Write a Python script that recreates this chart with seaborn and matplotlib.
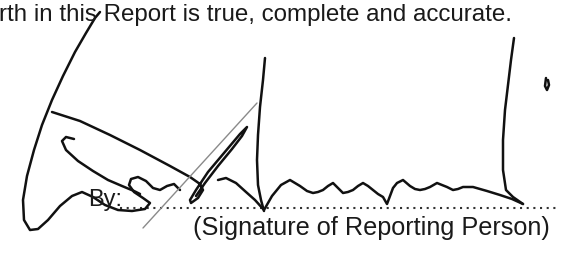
import numpy as np
import pandas as pd
import seaborn as sns
from matplotlib import pyplot as plt

# text on the page
top_line = "rth in this Report is true, complete and accurate."
by_label = "By:"
caption = "(Signature of Reporting Person)"

# pen strokes, image pixel coords (x right, y down)
loop_x = [100, 95, 86, 75, 63, 52, 42, 34, 27, 23, 24, 30, 38, 48, 60, 72, 82, 93, 105, 118, 132, 145, 150, 143, 134, 129, 131, 138, 146, 153, 160, 167, 174, 180]
loop_y = [12, 18, 33, 52, 76, 100, 125, 150, 176, 200, 220, 230, 229, 220, 206, 196, 192, 197, 205, 210, 211, 209, 203, 198, 192, 185, 179, 177, 181, 188, 190, 186, 184, 190]
hook_x = [74, 66, 62, 66, 78, 93, 108, 122, 134, 140]
hook_y = [139, 137, 141, 150, 161, 171, 180, 186, 191, 194]
slash_x = [52, 80, 110, 140, 170, 190, 200, 203, 198, 191, 190, 196, 208, 224, 240, 247, 242, 232, 218, 205, 196]
slash_y = [112, 121, 135, 150, 166, 177, 184, 190, 198, 203, 200, 190, 172, 153, 134, 127, 136, 149, 166, 183, 196]
tall_x = [265, 263, 260, 258, 257, 258, 261, 264]
tall_y = [58, 80, 107, 135, 160, 185, 200, 211]
sweep_x = [218, 226, 236, 246, 255, 264, 272, 281, 290, 300, 307, 313, 318, 323, 328, 333, 338, 343, 348, 353, 358, 363, 368, 373, 378, 383, 387, 390, 393, 397, 403, 410, 415, 420, 425, 430, 437, 442, 447, 453, 458, 463, 473, 487, 500, 512, 523]
sweep_y = [180, 178, 183, 192, 200, 210, 196, 185, 180, 186, 191, 193, 192, 190, 186, 183, 188, 193, 192, 190, 186, 183, 186, 190, 194, 197, 204, 196, 188, 183, 180, 186, 189, 190, 189, 187, 183, 185, 187, 190, 189, 187, 187, 191, 195, 199, 204]
right_x = [523, 513, 506, 503, 503, 505, 508, 511, 514]
right_y = [204, 197, 190, 170, 140, 110, 85, 60, 38]
tick_x = [546, 545, 547, 549, 548]
tick_y = [78, 86, 90, 85, 80]
grey_x = [143, 257]
grey_y = [228, 103]

strokes = {"loop": (loop_x, loop_y), "hook": (hook_x, hook_y), "slash": (slash_x, slash_y),
           "tall": (tall_x, tall_y), "sweep": (sweep_x, sweep_y), "right": (right_x, right_y),
           "tick": (tick_x, tick_y)}
rows = []
for name, (xs, ys) in strokes.items():
    for i, (a, b) in enumerate(zip(xs, ys)):
        rows.append((name, i, a, b))
ink = pd.DataFrame(rows, columns=["stroke", "order", "x", "y"])

sns.set_style("white")
plt.rcParams['font.family'] = ['Liberation Sans', 'DejaVu Sans']

fig = plt.figure(figsize=(5.75, 2.54), dpi=100)
ax = fig.add_axes([0, 0, 1, 1])

ax.text(512, 21, top_line, ha="right", va="baseline", fontsize=17.4, color="#1a1a1a")
ax.text(88, 206, by_label, ha="left", va="baseline", fontsize=17, color="#1a1a1a")
ax.hlines(208, 120, 558, colors="#333333", linewidth=1.5, linestyles=(0, (1, 2.2)))
ax.text(550, 235, caption, ha="right", va="baseline", fontsize=18.2, color="#1a1a1a")

sns.lineplot(data=ink, x="x", y="y", units="stroke", estimator=None, sort=False,
             color="#111111", linewidth=1.8, ax=ax)
ax.plot(grey_x, grey_y, color="#8a8a8a", linewidth=1.0)
ax.set_xlim(0, 575)
ax.set_ylim(254, 0)
ax.axis("off")

plt.savefig("out.png", dpi=100)
